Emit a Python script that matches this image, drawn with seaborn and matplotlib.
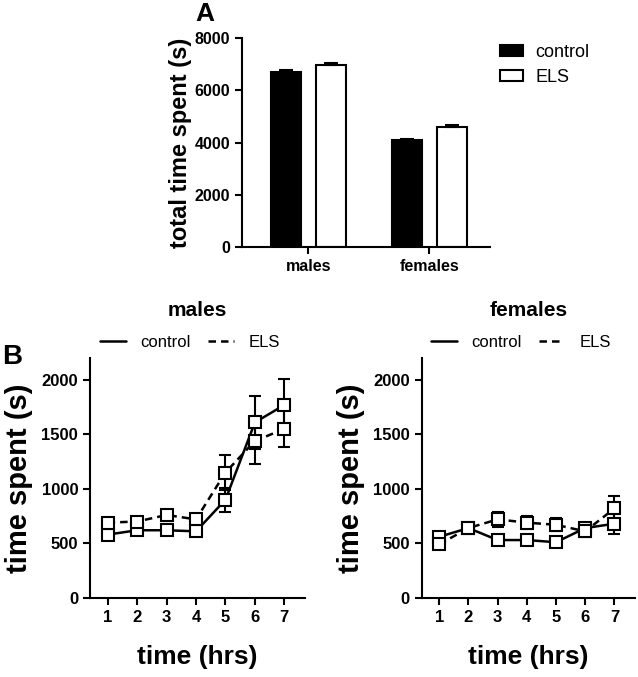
import numpy as np
import pandas as pd
import seaborn as sns
import matplotlib.pyplot as plt
from matplotlib.lines import Line2D
from matplotlib.patches import Patch

sns.set_style('ticks')
plt.rcParams['font.family'] = ['Liberation Sans', 'DejaVu Sans']
for k in ['text.color', 'axes.labelcolor', 'xtick.color', 'ytick.color',
          'axes.edgecolor']:
    plt.rcParams[k] = 'black'

# panel A: total time spent
sexes = ['males', 'females']
groups = ['control', 'ELS']
total_control = [6700, 4080]
total_els = [6980, 4600]
total_control_err = [90, 70]
total_els_err = [70, 60]

# panel B: time spent per hour
hours = [1, 2, 3, 4, 5, 6, 7]
males_control = [580, 620, 620, 610, 900, 1610, 1770]
males_control_err = [30, 20, 20, 30, 110, 240, 240]
males_els = [690, 700, 760, 720, 1150, 1440, 1550]
males_els_err = [30, 30, 40, 40, 160, 210, 170]
females_control = [560, 640, 530, 530, 510, 640, 680]
females_control_err = [40, 40, 30, 30, 30, 50, 90]
females_els = [490, 640, 720, 690, 670, 610, 820]
females_els_err = [40, 40, 70, 60, 60, 50, 110]

fig = plt.figure(figsize=(6.38, 6.77), dpi=100)

# ---- A ----
axA = fig.add_axes([0.379, 0.635, 0.389, 0.309])
bar_df = pd.DataFrame({
    'sex': sexes * 2,
    'group': ['control'] * 2 + ['ELS'] * 2,
    'value': total_control + total_els,
})
sns.barplot(data=bar_df, x='sex', y='value', hue='group', order=sexes,
            hue_order=groups, palette={'control': 'black', 'ELS': 'white'},
            edgecolor='black', linewidth=1.5, width=0.75, gap=0.34,
            errorbar=None, legend=False, ax=axA)
err_lookup = dict(zip(total_control + total_els,
                      total_control_err + total_els_err))
for p in axA.patches:
    h = p.get_height()
    if h in err_lookup:
        xc = p.get_x() + p.get_width() / 2
        axA.errorbar(xc, h, yerr=[[0], [err_lookup[h]]], fmt='none',
                     ecolor='black', elinewidth=1.5, capsize=5, capthick=1.5)
axA.set_xlim(-0.55, 1.5)
axA.set_ylim(0, 8000)
axA.set_yticks([0, 2000, 4000, 6000, 8000])
axA.set_xlabel('')
axA.set_ylabel('total time spent (s)', fontsize=17, fontweight='bold',
               labelpad=2)
axA.tick_params(width=1.5, length=5, labelsize=11.5)
for lab in axA.get_xticklabels() + axA.get_yticklabels():
    lab.set_fontweight('bold')
for s in ['left', 'bottom']:
    axA.spines[s].set_linewidth(1.5)
sns.despine(ax=axA)
handles = [Patch(facecolor='black', edgecolor='black', linewidth=1.5),
           Patch(facecolor='white', edgecolor='black', linewidth=1.5)]
fig.legend(handles, groups, loc='upper left',
           bbox_to_anchor=(491 / 638, 1 - 35 / 677), borderpad=0,
           frameon=False, fontsize=13, handlelength=1.25, handleheight=0.55,
           handletextpad=0.7, labelspacing=0.45)
fig.text(0.306, 0.98, 'A', fontsize=19, fontweight='bold', va='center')

# ---- B ----
panels = [
    ('males', males_control, males_control_err, males_els, males_els_err,
     [0.141, 0.117, 0.337, 0.354]),
    ('females', females_control, females_control_err, females_els,
     females_els_err, [0.661, 0.117, 0.334, 0.354]),
]
for title, ctrl, ctrl_err, els, els_err, pos in panels:
    ax = fig.add_axes(pos)
    df = pd.DataFrame({
        'hour': hours * 2,
        'value': ctrl + els,
        'group': ['control'] * 7 + ['ELS'] * 7,
    })
    ax.errorbar(hours, ctrl, yerr=ctrl_err, fmt='none', ecolor='black',
                elinewidth=1.5, capsize=4, capthick=1.5, zorder=2)
    ax.errorbar(hours, els, yerr=els_err, fmt='none', ecolor='black',
                elinewidth=1.5, capsize=4, capthick=1.5, zorder=2)
    sns.lineplot(data=df, x='hour', y='value', style='group',
                 style_order=groups, markers={'control': 's', 'ELS': 's'},
                 dashes={'control': '', 'ELS': (3, 2)}, color='black',
                 markersize=9, markerfacecolor='white', markeredgecolor='black',
                 markeredgewidth=1.5, linewidth=1.8, legend=False, ax=ax,
                 zorder=3)
    ax.set_xlim(0.4, 7.7)
    ax.set_ylim(0, 2200)
    ax.set_xticks(hours)
    ax.set_yticks([0, 500, 1000, 1500, 2000])
    ax.set_xlabel('time (hrs)', fontsize=19, fontweight='bold', labelpad=15)
    ax.set_ylabel('time spent (s)', fontsize=21, fontweight='bold',
                  labelpad=6)
    ax.tick_params(width=1.5, length=5, labelsize=12)
    for lab in ax.get_xticklabels() + ax.get_yticklabels():
        lab.set_fontweight('bold')
    for s in ['left', 'bottom']:
        ax.spines[s].set_linewidth(1.5)
    sns.despine(ax=ax)
    ax.text(0.5, 1.2, title, transform=ax.transAxes, ha='center',
            va='center', fontsize=15, fontweight='bold')
    leg_handles = [Line2D([], [], color='black', lw=1.8),
                   Line2D([], [], color='black', lw=1.8, dashes=(3, 2))]
    ax.legend(leg_handles, groups, loc='center', ncol=2,
              bbox_to_anchor=(0.465, 1.067), frameon=False, fontsize=12,
              handlelength=1.55, handletextpad=0.9, columnspacing=1.0,
              borderpad=0)

fig.text(0.003, 0.472, 'B', fontsize=20, fontweight='bold', va='center')

fig.savefig('out.png', dpi=100)
